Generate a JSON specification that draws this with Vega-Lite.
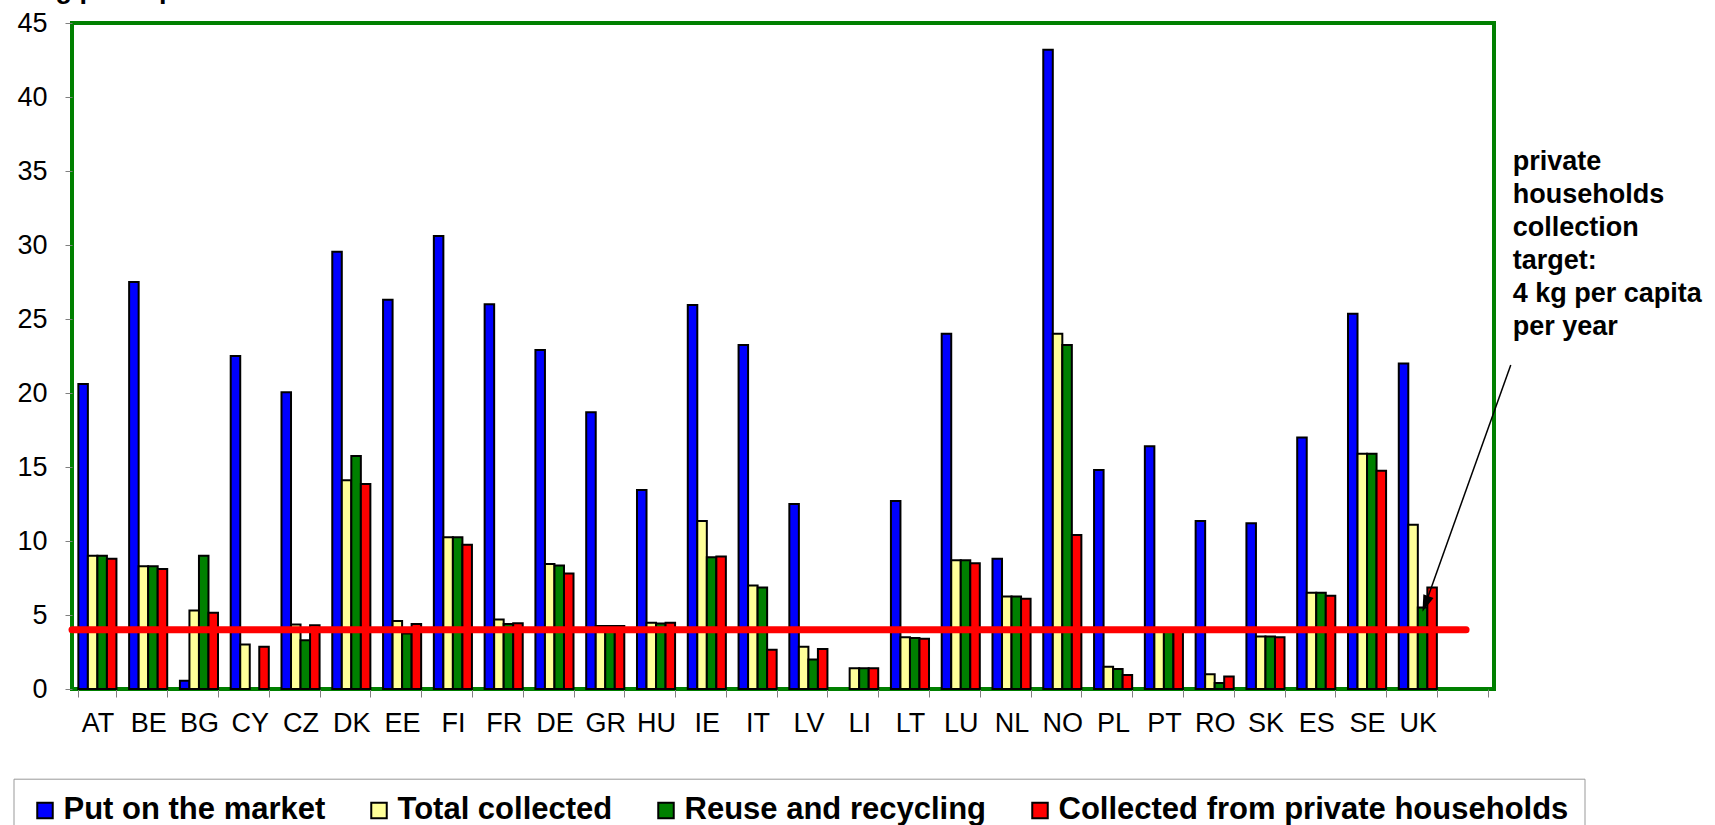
{
  "$schema": "https://vega.github.io/schema/vega-lite/v6.json",
  "width": 1422,
  "height": 666,
  "autosize": {"type": "none"},
  "padding": {"left": 72, "top": 23, "right": 221, "bottom": 136},
  "background": "white",
  "config": {
    "font": "Liberation Sans",
    "view": {"stroke": "#008000", "strokeWidth": 4},
    "axis": {"labelFont": "Liberation Sans", "labelColor": "black"}
  },
  "resolve": {"scale": {"x": "independent"}},
  "layer": [
    {
      "data": {"values": [
        {"c": "AT", "Put on the market": 20.6, "Total collected": 9.0, "Reuse and recycling": 9.0, "Collected from private households": 8.8},
        {"c": "BE", "Put on the market": 27.5, "Total collected": 8.3, "Reuse and recycling": 8.3, "Collected from private households": 8.1},
        {"c": "BG", "Put on the market": 0.55, "Total collected": 5.3, "Reuse and recycling": 9.0, "Collected from private households": 5.15},
        {"c": "CY", "Put on the market": 22.5, "Total collected": 3.0, "Reuse and recycling": null, "Collected from private households": 2.85},
        {"c": "CZ", "Put on the market": 20.05, "Total collected": 4.35, "Reuse and recycling": 3.3, "Collected from private households": 4.3},
        {"c": "DK", "Put on the market": 29.55, "Total collected": 14.1, "Reuse and recycling": 15.75, "Collected from private households": 13.85},
        {"c": "EE", "Put on the market": 26.3, "Total collected": 4.6, "Reuse and recycling": 3.75, "Collected from private households": 4.4},
        {"c": "FI", "Put on the market": 30.6, "Total collected": 10.25, "Reuse and recycling": 10.25, "Collected from private households": 9.75},
        {"c": "FR", "Put on the market": 26.0, "Total collected": 4.7, "Reuse and recycling": 4.4, "Collected from private households": 4.45},
        {"c": "DE", "Put on the market": 22.9, "Total collected": 8.45, "Reuse and recycling": 8.35, "Collected from private households": 7.8},
        {"c": "GR", "Put on the market": 18.7, "Total collected": 4.25, "Reuse and recycling": 4.25, "Collected from private households": 4.25},
        {"c": "HU", "Put on the market": 13.45, "Total collected": 4.47, "Reuse and recycling": 4.43, "Collected from private households": 4.47},
        {"c": "IE", "Put on the market": 25.95, "Total collected": 11.35, "Reuse and recycling": 8.9, "Collected from private households": 8.95},
        {"c": "IT", "Put on the market": 23.25, "Total collected": 7.0, "Reuse and recycling": 6.85, "Collected from private households": 2.65},
        {"c": "LV", "Put on the market": 12.5, "Total collected": 2.85, "Reuse and recycling": 2.0, "Collected from private households": 2.7},
        {"c": "LI", "Put on the market": null, "Total collected": 1.4, "Reuse and recycling": 1.4, "Collected from private households": 1.4},
        {"c": "LT", "Put on the market": 12.7, "Total collected": 3.5, "Reuse and recycling": 3.45, "Collected from private households": 3.4},
        {"c": "LU", "Put on the market": 24.0, "Total collected": 8.7, "Reuse and recycling": 8.7, "Collected from private households": 8.5},
        {"c": "NL", "Put on the market": 8.8, "Total collected": 6.25, "Reuse and recycling": 6.25, "Collected from private households": 6.1},
        {"c": "NO", "Put on the market": 43.2, "Total collected": 24.0, "Reuse and recycling": 23.25, "Collected from private households": 10.4},
        {"c": "PL", "Put on the market": 14.8, "Total collected": 1.5, "Reuse and recycling": 1.35, "Collected from private households": 0.95},
        {"c": "PT", "Put on the market": 16.4, "Total collected": 4.0, "Reuse and recycling": 4.0, "Collected from private households": 4.0},
        {"c": "RO", "Put on the market": 11.35, "Total collected": 1.0, "Reuse and recycling": 0.4, "Collected from private households": 0.85},
        {"c": "SK", "Put on the market": 11.2, "Total collected": 3.55, "Reuse and recycling": 3.55, "Collected from private households": 3.5},
        {"c": "ES", "Put on the market": 17.0, "Total collected": 6.5, "Reuse and recycling": 6.5, "Collected from private households": 6.3},
        {"c": "SE", "Put on the market": 25.35, "Total collected": 15.9, "Reuse and recycling": 15.9, "Collected from private households": 14.75},
        {"c": "UK", "Put on the market": 22.0, "Total collected": 11.1, "Reuse and recycling": 5.5, "Collected from private households": 6.85}
      ]},
      "transform": [
        {"fold": ["Put on the market", "Total collected", "Reuse and recycling", "Collected from private households"], "as": ["series", "value"]}
      ],
      "mark": {"type": "bar", "stroke": "black", "strokeWidth": 2},
      "encoding": {
        "x": {
          "field": "c", "type": "nominal",
          "scale": {
            "domain": ["AT","BE","BG","CY","CZ","DK","EE","FI","FR","DE","GR","HU","IE","IT","LV","LI","LT","LU","NL","NO","PL","PT","RO","SK","ES","SE","UK","_"],
            "paddingInner": 0.25, "paddingOuter": 0.125
          },
          "axis": {
            "title": null, "labelAngle": 0, "labelFontSize": 27, "tickBand": "extent",
            "tickColor": "#808080", "tickSize": 8, "labelPadding": 13, "domain": false,
            "labelExpr": "datum.value == '_' ? '' : datum.value"
          }
        },
        "xOffset": {
          "field": "series", "type": "nominal",
          "sort": ["Put on the market", "Total collected", "Reuse and recycling", "Collected from private households"],
          "scale": {"paddingInner": 0, "paddingOuter": 0}
        },
        "y": {
          "field": "value", "type": "quantitative",
          "scale": {"domain": [0, 45], "nice": false},
          "axis": {
            "title": null, "values": [0,5,10,15,20,25,30,35,40,45], "labelFontSize": 27,
            "tickColor": "#808080", "tickSize": 7, "labelPadding": 18, "domain": false, "grid": false
          }
        },
        "color": {
          "field": "series", "type": "nominal",
          "sort": ["Put on the market", "Total collected", "Reuse and recycling", "Collected from private households"],
          "scale": {
            "domain": ["Put on the market", "Total collected", "Reuse and recycling", "Collected from private households"],
            "range": ["#0000FF", "#FFFF99", "#008000", "#FF0000"]
          },
          "legend": {
            "orient": "none", "legendX": -58.5, "legendY": 755.7, "direction": "horizontal", "columns": 4,
            "title": null, "labelFontSize": 31, "labelFontWeight": "bold", "labelFont": "Liberation Sans",
            "labelColor": "black", "symbolType": "square", "symbolSize": 240, "symbolStrokeColor": "black",
            "symbolStrokeWidth": 2, "symbolOpacity": 1, "labelOffset": 3, "columnPadding": 38, "padding": 16,
            "strokeColor": "#999999", "labelLimit": 1000
          }
        }
      }
    },
    {
      "layer": [
        {
          "data": {"values": [{"x": 0, "x2": 27.45, "y": 4}]},
          "mark": {"type": "rule", "color": "#FF0000", "strokeWidth": 7, "strokeCap": "round"},
          "encoding": {
            "x": {"field": "x", "type": "quantitative", "scale": {"domain": [0, 28], "nice": false, "zero": false}, "axis": null},
            "x2": {"field": "x2"},
            "y": {"field": "y", "type": "quantitative", "scale": {"domain": [0, 45], "nice": false}}
          }
        },
        {
          "data": {"values": [{"x": 28.33, "x2": 26.65, "y": 21.9, "y2": 5.75}]},
          "mark": {"type": "rule", "color": "black", "strokeWidth": 1.5, "clip": false},
          "encoding": {
            "x": {"field": "x", "type": "quantitative", "scale": {"domain": [0, 28], "nice": false, "zero": false}, "axis": null},
            "x2": {"field": "x2"},
            "y": {"field": "y", "type": "quantitative", "scale": {"domain": [0, 45], "nice": false}},
            "y2": {"field": "y2"}
          }
        },
        {
          "data": {"values": [{"x": 26.65, "y": 5.75}]},
          "mark": {"type": "point", "shape": "M0,-1L-0.65,1L0.65,1Z", "size": 280, "filled": true, "color": "black", "opacity": 1, "angle": 201},
          "encoding": {
            "x": {"field": "x", "type": "quantitative", "scale": {"domain": [0, 28], "nice": false, "zero": false}, "axis": null},
            "y": {"field": "y", "type": "quantitative", "scale": {"domain": [0, 45], "nice": false}}
          }
        },
        {
          "data": {"values": [{"x": 28.37, "y": 35.07, "t": ["private", "households", "collection", "target:", "4 kg per capita", "per year"]}]},
          "mark": {"type": "text", "align": "left", "baseline": "alphabetic", "fontSize": 27, "fontWeight": "bold", "font": "Liberation Sans", "lineHeight": 33, "color": "black"},
          "encoding": {
            "x": {"field": "x", "type": "quantitative", "scale": {"domain": [0, 28], "nice": false, "zero": false}, "axis": null},
            "y": {"field": "y", "type": "quantitative", "scale": {"domain": [0, 45], "nice": false}},
            "text": {"field": "t"}
          }
        },
        {
          "data": {"values": [{"x": -0.62, "y": 46.69, "t": "kg per capita"}]},
          "mark": {"type": "text", "align": "left", "baseline": "alphabetic", "fontSize": 27, "fontWeight": "bold", "font": "Liberation Sans", "color": "black"},
          "encoding": {
            "x": {"field": "x", "type": "quantitative", "scale": {"domain": [0, 28], "nice": false, "zero": false}, "axis": null},
            "y": {"field": "y", "type": "quantitative", "scale": {"domain": [0, 45], "nice": false}},
            "text": {"field": "t"}
          }
        }
      ]
    }
  ]
}
